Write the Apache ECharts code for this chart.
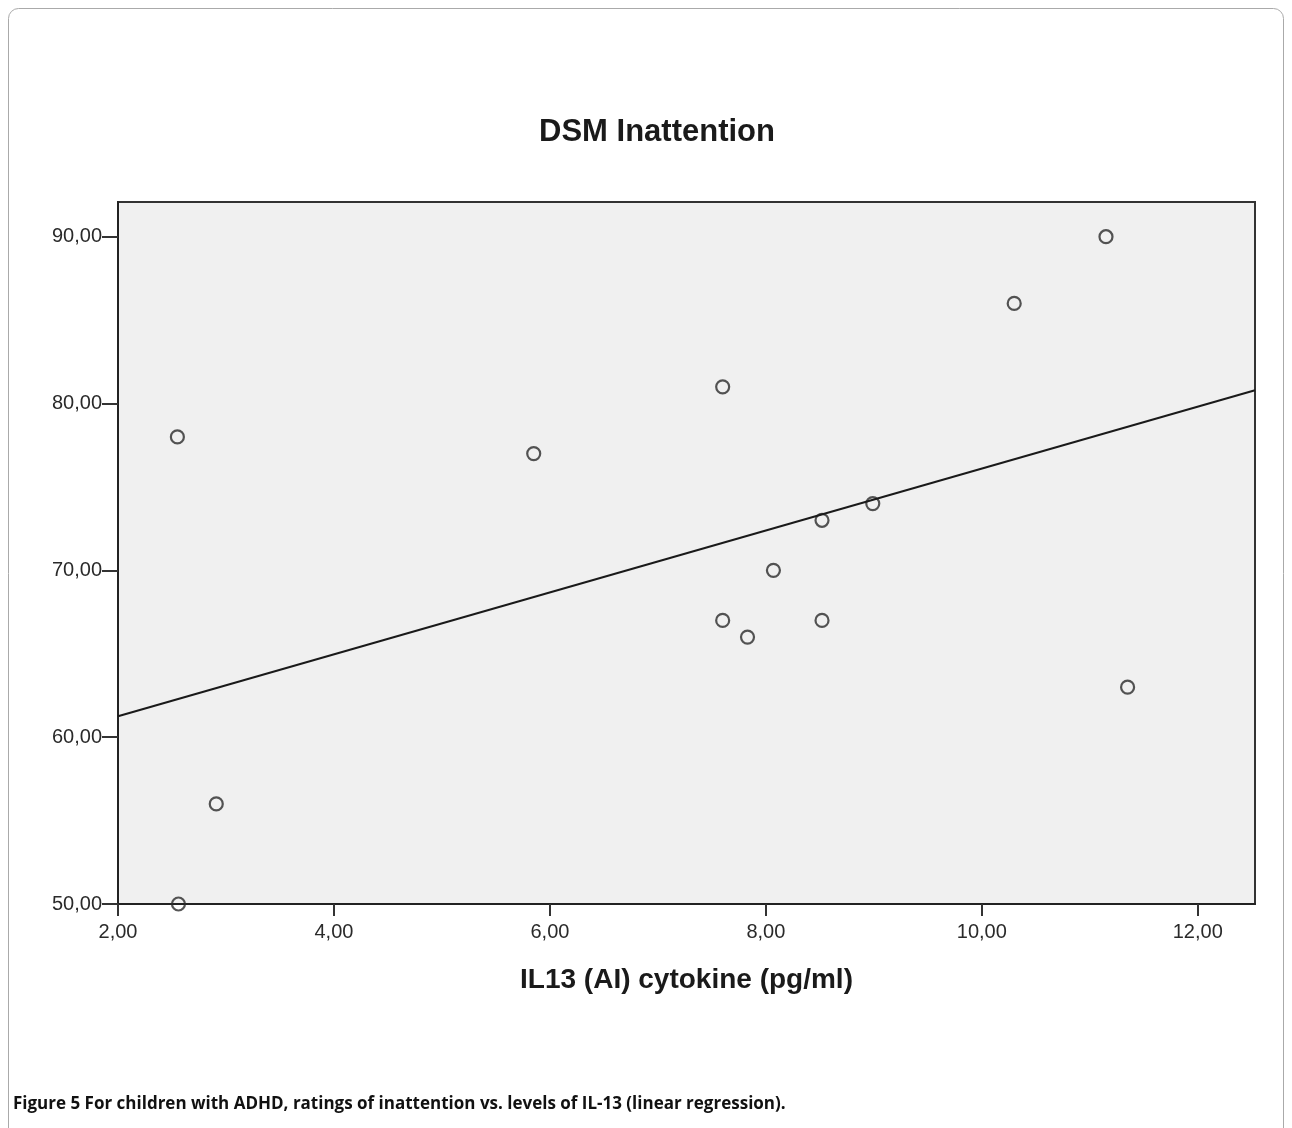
<!DOCTYPE html>
<html><head><meta charset="utf-8">
<script src="https://cdn.jsdelivr.net/npm/echarts@6/dist/echarts.min.js"></script>
<style>html,body{margin:0;padding:0;background:#fff}#c{width:1292px;height:1128px}</style>
</head><body><div id="c"></div>
<script>
const il13 = [2.55, 2.56, 2.91, 5.85, 7.60, 7.60, 7.83, 8.07, 8.52, 8.52, 8.99, 10.30, 11.15, 11.35];
const inattention = [78, 50, 56, 77, 81, 67, 66, 70, 73, 67, 74, 86, 90, 63];
const fitX = [2.0, 12.53];
const fitY = [61.25, 80.8];
const xTicks = [2, 4, 6, 8, 10, 12];
const yTicks = [50, 60, 70, 80, 90];

const points = il13.map((x, i) => [x, inattention[i]]);
const fitLine = fitX.map((x, i) => [x, fitY[i]]);
const fmt = v => v.toFixed(2).replace('.', ',');

const chart = echarts.init(document.getElementById('c'), null, {renderer: 'canvas'});
chart.setOption({
  animation: false,
  backgroundColor: '#ffffff',
  title: {
    text: 'DSM Inattention', left: 652, top: 112, textAlign: 'center',
    textStyle: {fontFamily: 'Liberation Sans', fontWeight: 'bold', fontSize: 31, color: '#1a1a1a'}
  },
  graphic: [
    {type: 'rect', shape: {x: 8.5, y: 8.5, width: 1275, height: 1130, r: 10}, style: {fill: 'none', stroke: '#aaaaaa', lineWidth: 1}, z: -10},
    {type: 'text', left: 13, top: 1096, style: {text: 'Figure 5 For children with ADHD, ratings of inattention vs. levels of IL-13 (linear regression).', font: 'bold 17px "Open Sans"', fill: '#111'}}
  ],
  grid: {left: 118, right: 37, top: 202, bottom: 224, show: true, backgroundColor: '#f0f0f0', borderColor: '#333', borderWidth: 2},
  xAxis: {
    type: 'value', min: 2, max: 12.53, interval: 2,
    name: 'IL13 (AI) cytokine (pg/ml)', nameLocation: 'middle', nameGap: 62,
    nameTextStyle: {fontFamily: 'Liberation Sans', fontWeight: 'bold', fontSize: 28, color: '#1a1a1a'},
    axisLine: {show: true, lineStyle: {color: '#222', width: 2}},
    axisTick: {show: true, length: 12, customValues: xTicks, lineStyle: {color: '#333', width: 2}},
    axisLabel: {fontFamily: 'Liberation Sans', fontSize: 20, color: '#2a2a2a', margin: 18,
      customValues: xTicks, formatter: v => fmt(v)},
    splitLine: {show: false}
  },
  yAxis: {
    type: 'value', min: 50, max: 92.08, interval: 10,
    axisLine: {show: true, lineStyle: {color: '#222', width: 2}},
    axisTick: {show: true, length: 16, customValues: yTicks, lineStyle: {color: '#333', width: 2}},
    axisLabel: {fontFamily: 'Liberation Sans', fontSize: 20, color: '#2a2a2a', margin: 16,
      customValues: yTicks, formatter: v => fmt(v)},
    splitLine: {show: false}
  },
  series: [
    {type: 'scatter', data: points, symbol: 'circle', symbolSize: 13,
      itemStyle: {color: 'rgba(0,0,0,0)', borderColor: '#2a2a2a', borderWidth: 2.2}, z: 2},
    {type: 'line', data: fitLine, symbol: 'none', lineStyle: {color: '#1a1a1a', width: 2}, z: 3}
  ]
});
</script></body></html>
